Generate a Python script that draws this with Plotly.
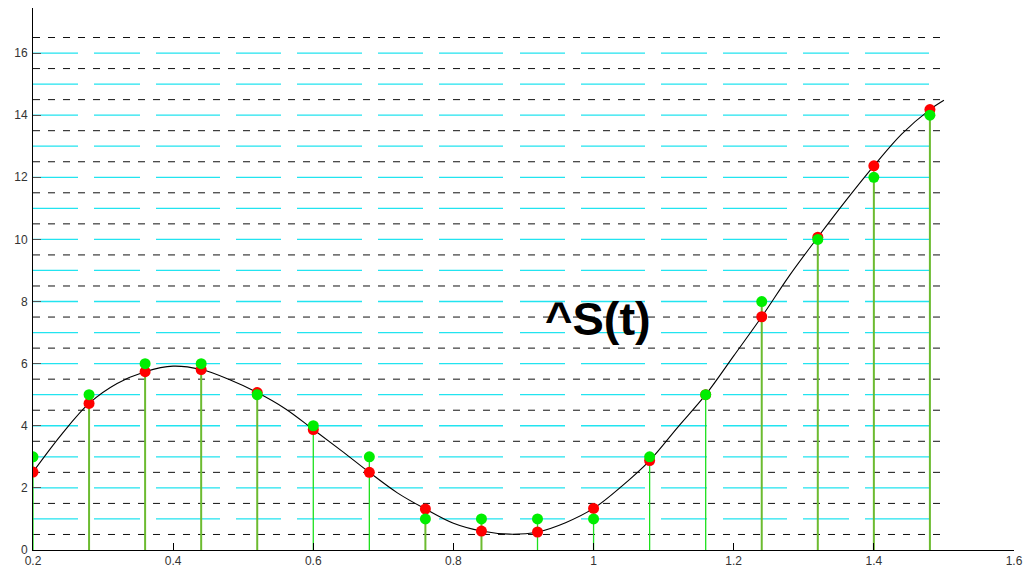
import plotly.graph_objects as go

# Continuous signal S(t), read at 0.04 steps
t_curve = [0.20, 0.24, 0.28, 0.32, 0.36, 0.40, 0.44, 0.48, 0.52, 0.56, 0.60,
           0.64, 0.68, 0.72, 0.76, 0.80, 0.84, 0.88, 0.92, 0.96, 1.00, 1.04,
           1.08, 1.12, 1.16, 1.20, 1.24, 1.28, 1.32, 1.36, 1.40, 1.44, 1.48, 1.50]
s_curve = [2.51, 3.70, 4.72, 5.36, 5.74, 5.92, 5.81, 5.49, 5.07, 4.55, 3.88,
           3.20, 2.50, 1.84, 1.32, 0.86, 0.61, 0.51, 0.58, 0.88, 1.34, 2.05,
           2.88, 3.95, 5.00, 6.25, 7.51, 8.85, 10.07, 11.25, 12.37, 13.40, 14.18, 14.48]

# Sampling instants, sampled values and quantized values
t_samp = [0.20, 0.28, 0.36, 0.44, 0.52, 0.60, 0.68, 0.76, 0.84,
          0.92, 1.00, 1.08, 1.16, 1.24, 1.32, 1.40, 1.48]
s_samp = [2.51, 4.72, 5.74, 5.81, 5.07, 3.88, 2.50, 1.32, 0.61,
          0.58, 1.34, 2.88, 5.00, 7.51, 10.07, 12.37, 14.18]
s_quant = [3, 5, 6, 6, 5, 4, 3, 1, 1, 1, 1, 3, 5, 8, 10, 12, 14]

# Quantization levels and decision thresholds
q_levels = list(range(1, 17))
q_thresholds = [k + 0.5 for k in range(17)]

x_ticks = [0.2, 0.4, 0.6, 0.8, 1.0, 1.2, 1.4, 1.6]
x_ticktext = ["0.2", "0.4", "0.6", "0.8", "1", "1.2", "1.4", "1.6"]
y_ticks = [0, 2, 4, 6, 8, 10, 12, 14, 16]
y_ticktext = ["0", "2", "4", "6", "8", "10", "12", "14", "16"]

# stems drawn with the darker (overlapped) tone
dark_stem = {0.28, 0.36, 0.44, 0.52, 0.76, 0.84, 1.24, 1.32, 1.40, 1.48}

FONT = "Liberation Sans, Arial, sans-serif"
T_END = 1.5

fig = go.Figure()


def stem_xy(ts, lo, hi):
    xs, ys = [], []
    for t, a, b in zip(ts, lo, hi):
        xs += [t, t, None]
        ys += [a, b, None]
    return xs, ys


# red stem parts that rise above the quantized value
red_t = [t for t, s, q in zip(t_samp, s_samp, s_quant) if s > q]
red_lo = [q for s, q in zip(s_samp, s_quant) if s > q]
red_hi = [s for s, q in zip(s_samp, s_quant) if s > q]
rx, ry = stem_xy(red_t, red_lo, red_hi)
fig.add_trace(go.Scatter(x=rx, y=ry, mode="lines",
                         line=dict(color="#ff2020", width=1), hoverinfo="skip"))

# green stems to the quantized values
for dark in (False, True):
    ts = [t for t in t_samp if (t in dark_stem) == dark]
    vs = [q for t, q in zip(t_samp, s_quant) if (t in dark_stem) == dark]
    gx, gy = stem_xy(ts, [0] * len(ts), vs)
    fig.add_trace(go.Scatter(
        x=gx, y=gy, mode="lines",
        line=dict(color="#6cbb30" if dark else "#1ee01e", width=2 if dark else 1.3),
        hoverinfo="skip"))

# continuous signal
fig.add_trace(go.Scatter(x=t_curve, y=s_curve, mode="lines",
                         line=dict(color="black", width=1.1, shape="spline")))

# sampled and quantized points
fig.add_trace(go.Scatter(x=t_samp, y=s_samp, mode="markers",
                         marker=dict(color="#ff0000", size=11, line=dict(width=0))))
fig.add_trace(go.Scatter(x=t_samp, y=s_quant, mode="markers",
                         marker=dict(color="#00ee00", size=11, line=dict(width=0))))

shapes = []
for lv in q_thresholds:
    shapes.append(dict(type="line", xref="x", yref="y", x0=0.2, x1=T_END, y0=lv, y1=lv,
                       layer="below", line=dict(color="#111111", width=1, dash="7px,8px")))
cyan_dash = ("45px,16px,46px,16px,64px,16px,45px,16px,65px,16px,45px,16px,64px,17px,"
             "45px,16px,64px,16px,46px,16px,64px,16px,46px,16px,64px,40px")
for lv in q_levels:
    shapes.append(dict(type="line", xref="x", yref="y", x0=0.2, x1=T_END, y0=lv, y1=lv,
                       layer="below", line=dict(color="#22e4f0", width=1.3, dash=cyan_dash)))

fig.update_layout(
    width=1023, height=572,
    margin=dict(l=33, r=9, t=8, b=22, autoexpand=False),
    paper_bgcolor="white", plot_bgcolor="white",
    showlegend=False,
    shapes=shapes,
    font=dict(family=FONT, size=12, color="#333333"),
    annotations=[dict(x=1.007, y=7.45, xref="x", yref="y", text="^S(t)", showarrow=False,
                      xanchor="center", yanchor="middle",
                      font=dict(family=FONT, size=47, color="black", weight="bold"))],
)
fig.update_xaxes(range=[0.2, 1.6], tickvals=x_ticks, ticktext=x_ticktext,
                 automargin=False,
                 showgrid=False, zeroline=False, showline=True, linecolor="black",
                 linewidth=1, ticks="inside", ticklen=7, tickcolor="black",
                 tickfont=dict(family=FONT, size=12, color="#333333"))
fig.update_yaxes(range=[0, 17.45], tickvals=y_ticks, ticktext=y_ticktext,
                 automargin=False, ticklabelstandoff=2,
                 showgrid=False, zeroline=False, showline=True, linecolor="black",
                 linewidth=1, ticks="inside", ticklen=8, tickcolor="#555555",
                 tickfont=dict(family=FONT, size=12, color="#333333"))

fig.write_html("out.html")
